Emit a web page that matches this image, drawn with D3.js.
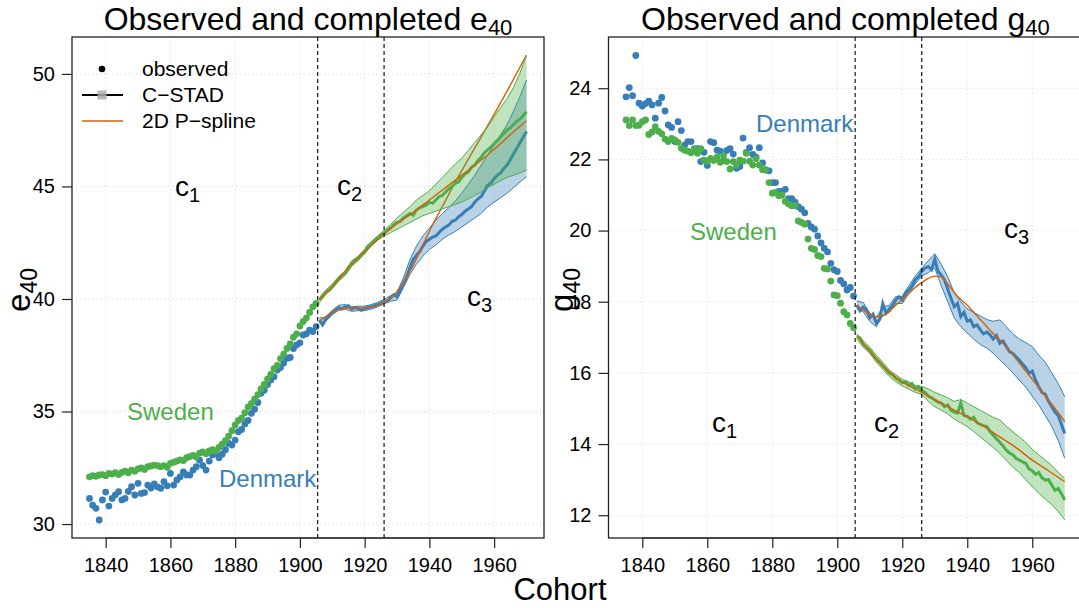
<!DOCTYPE html>
<html>
<head>
<meta charset="utf-8">
<script src="https://cdn.jsdelivr.net/npm/d3@7"></script>
<style>
  body { margin: 0; background: #fff; }
  svg { display: block; font-family: "Liberation Sans", Arial, sans-serif; }
</style>
</head>
<body>
<svg id="chart" width="1079" height="608"></svg>
<script>
// ---------- cohorts ----------
const obsYears  = d3.range(1835, 1906);        // observed cohorts
const fitYears  = d3.range(1906, 1971);        // completed cohorts
const bandYears = d3.range(1906, 1971, 2);     // interval bounds
const splineYearsE = {
  swe: [1906, 1910, 1915, 1920, 1926, 1930, 1935, 1940, 1945, 1950, 1955, 1960, 1965, 1970],
  den: [1906, 1910, 1915, 1920, 1926, 1929, 1932, 1935, 1938, 1941, 1944, 1948, 1952, 1956, 1960, 1965, 1970]
};
const splineYearsG = {
  swe: [1906, 1910, 1915, 1920, 1925, 1930, 1935, 1940, 1945, 1950, 1955, 1960, 1965, 1970],
  den: [1906, 1909, 1912, 1915, 1918, 1921, 1924, 1927, 1930, 1932, 1934, 1937, 1940, 1944, 1948, 1951, 1955, 1958, 1961, 1964, 1967, 1970]
};
const cohortBreaks = [1905.5, 1926];
const xTickLabels = [1840, 1860, 1880, 1900, 1920, 1940, 1960];
const eTicks = [30, 35, 40, 45, 50];
const gTicks = [12, 14, 16, 18, 20, 22, 24];

// ---------- e40 ----------
const e40ObsSwe = [32.10,32.15,32.12,32.18,32.20,32.15,32.25,32.22,32.28,32.20,32.30,32.35,32.28,32.40,32.35,32.45,32.50,32.42,32.55,32.58,
  32.62,32.60,32.55,32.60,32.52,32.70,32.75,32.80,32.85,32.82,32.95,33.00,33.05,32.98,33.15,33.20,33.12,33.25,33.30,33.25,
  33.40,33.55,33.70,33.90,34.15,34.40,34.60,34.70,34.95,35.20,35.35,35.55,35.75,36.00,36.20,36.45,36.65,36.90,37.05,37.35,
  37.55,37.80,38.00,38.30,38.45,38.80,39.00,39.15,39.40,39.65,39.80];
const e40ObsDen = [31.14,30.84,30.70,30.18,31.07,31.42,30.80,31.14,31.30,31.44,31.07,31.14,31.45,31.66,31.29,31.81,31.36,31.40,31.73,31.60,
  31.78,31.65,31.59,31.88,31.70,32.25,31.73,31.96,32.10,32.32,32.18,32.18,32.40,32.55,32.84,32.60,32.40,32.80,33.07,33.14,
  32.95,33.10,33.30,33.58,33.51,33.73,34.10,34.20,34.45,34.60,34.92,35.10,35.40,35.81,35.95,36.20,36.40,36.55,36.84,36.95,
  37.15,37.36,37.40,37.80,37.96,38.05,38.40,38.45,38.62,38.55,38.77];
const e40FitSwe = [39.95,40.15,40.30,40.40,40.55,40.75,40.90,41.05,41.15,41.40,41.55,41.70,41.80,41.98,42.10,42.35,42.45,42.60,42.70,42.85,
  42.92,43.05,43.15,43.30,43.40,43.45,43.60,43.70,43.80,43.72,43.95,44.05,44.10,44.18,44.30,44.25,44.40,44.55,44.60,44.75,
  44.90,45.00,45.14,45.20,45.40,45.55,45.65,45.85,45.95,46.15,46.30,46.50,46.62,46.75,46.90,47.05,47.20,47.35,47.51,47.60,
  47.75,47.90,48.00,48.15,48.32];
const e40FitDen = [39.05,38.85,39.10,39.25,39.40,39.50,39.62,39.55,39.65,39.70,39.55,39.62,39.58,39.50,39.58,39.62,39.65,39.70,39.75,39.80,
  39.88,39.92,40.05,40.18,40.10,40.40,40.70,41.00,41.40,41.75,41.95,42.10,42.35,42.55,42.65,42.75,42.80,42.95,43.10,43.20,
  43.28,43.45,43.50,43.65,43.75,43.90,44.00,44.10,44.30,44.45,44.55,44.80,45.05,45.15,45.35,45.50,45.60,45.80,45.95,46.20,
  46.45,46.70,46.95,47.20,47.44];
const e40LoSwe = [39.85,40.20,40.45,40.80,41.05,41.45,41.70,42.00,42.35,42.60,42.80,42.95,43.10,43.25,43.40,43.55,43.70,43.80,43.90,44.00,
  44.10,44.20,44.30,44.45,44.60,44.75,44.95,45.10,45.25,45.40,45.50,45.60,45.73];
const e40HiSwe = [40.05,40.40,40.65,41.00,41.25,41.70,41.90,42.20,42.55,42.80,43.05,43.30,43.60,43.85,44.10,44.40,44.60,44.80,45.10,45.40,
  45.70,46.00,46.25,46.60,46.95,47.30,47.65,48.10,48.50,48.90,49.40,50.05,50.84];
const e40LoDen = [38.95,39.00,39.30,39.50,39.55,39.45,39.48,39.48,39.55,39.65,39.78,39.90,39.95,40.50,41.10,41.55,41.90,42.20,42.40,42.65,
  42.85,43.00,43.20,43.40,43.60,43.80,44.10,44.30,44.50,44.70,44.95,45.20,45.44];
const e40HiDen = [39.15,39.20,39.50,39.72,39.75,39.65,39.68,39.68,39.75,39.85,39.98,40.15,40.30,40.95,41.75,42.35,42.80,43.15,43.50,43.80,
  44.05,44.35,44.70,45.10,45.50,45.95,46.40,46.85,47.30,47.75,48.35,49.00,49.73];
const e40SplSwe = [39.95,40.55,41.40,42.10,42.90,43.35,43.85,44.40,44.95,45.50,46.05,46.65,47.30,47.92];
const e40SplDen = [39.00,39.40,39.60,39.60,39.85,40.15,40.75,41.50,42.40,43.30,44.10,45.20,46.20,47.20,48.20,49.50,50.84];

// ---------- g40 ----------
const g40ObsSwe = [23.11,22.95,23.11,22.95,22.96,23.06,23.11,22.70,22.77,22.92,22.79,22.72,22.57,22.50,22.59,22.55,22.48,22.31,22.26,22.23,
  22.19,22.28,22.17,22.30,21.98,21.94,22.03,21.97,22.06,21.92,22.10,21.94,21.73,21.94,21.84,21.98,21.95,22.17,21.95,21.84,
  22.02,21.84,21.71,21.71,21.35,21.05,21.07,20.98,21.00,20.82,20.75,20.70,20.70,20.27,20.23,20.18,19.76,19.50,19.47,19.30,
  19.27,18.94,18.92,18.58,18.19,18.17,17.96,17.72,17.63,17.39,17.27];
const g40ObsDen = [23.76,24.02,23.79,24.92,23.58,23.50,23.57,23.64,23.53,23.16,23.58,23.74,23.36,22.97,22.90,22.50,23.06,22.81,22.40,22.50,
  22.50,22.30,22.30,21.94,22.20,21.83,22.50,22.47,22.26,22.23,21.97,22.25,22.30,22.15,21.75,21.80,22.60,22.20,22.33,22.14,
  22.06,22.33,21.90,21.70,21.68,21.35,21.35,21.10,21.10,21.16,20.90,20.90,20.80,20.67,20.60,20.50,20.20,20.10,20.04,19.85,
  19.65,19.50,19.40,19.08,18.90,18.85,18.60,18.50,18.33,18.40,18.16];
const g40FitSwe = [17.02,16.98,16.80,16.72,16.64,16.50,16.40,16.30,16.20,16.10,15.99,15.95,15.85,15.80,15.72,15.75,15.65,15.70,15.55,15.61,
  15.50,15.45,15.35,15.30,15.24,15.18,15.15,15.05,15.10,14.95,14.90,14.87,15.15,14.80,14.78,14.70,14.75,14.60,14.55,14.52,
  14.49,14.35,14.25,14.15,14.05,13.95,13.83,13.75,13.70,13.60,13.55,13.50,13.46,13.30,13.25,13.15,13.20,13.05,12.99,13.00,
  12.85,12.70,12.75,12.60,12.43];
const g40FitDen = [17.91,17.75,17.85,17.77,17.55,17.65,17.40,17.50,17.95,17.68,17.80,17.90,18.05,18.14,18.05,18.25,18.33,18.45,18.62,18.70,
  18.85,18.95,18.99,18.90,19.20,18.85,18.75,18.61,18.35,18.10,17.86,17.95,17.58,17.70,17.45,17.49,17.30,17.35,17.21,17.10,
  17.15,17.07,16.95,17.05,16.83,16.90,16.74,16.60,16.55,16.45,16.36,16.25,16.15,15.99,16.05,15.80,15.61,15.45,15.40,15.20,
  15.05,14.90,14.80,14.55,14.30];
const g40LoSwe = [16.95,16.72,16.55,16.30,16.10,15.90,15.75,15.63,15.55,15.45,15.40,15.20,15.05,14.95,14.85,14.70,14.60,14.49,14.35,14.20,
  14.05,13.90,13.74,13.55,13.35,13.20,13.00,12.80,12.62,12.45,12.30,12.10,11.87];
const g40HiSwe = [17.10,16.90,16.72,16.50,16.30,16.08,15.95,15.82,15.75,15.65,15.62,15.55,15.45,15.38,15.30,15.20,15.25,15.15,15.05,14.95,
  14.85,14.75,14.68,14.50,14.35,14.20,14.05,13.85,13.70,13.55,13.40,13.20,13.04];
const g40LoDen = [17.80,17.72,17.45,17.30,17.60,17.70,17.95,17.95,18.22,18.50,18.72,18.82,18.95,18.45,18.00,17.55,17.30,17.12,16.95,16.80,
  16.70,16.55,16.36,16.20,16.00,15.80,15.60,15.35,15.10,14.80,14.50,14.10,13.60];
const g40HiDen = [18.02,17.98,17.68,17.55,17.85,17.90,18.15,18.15,18.45,18.72,18.95,19.15,19.35,19.05,18.70,18.25,18.00,17.80,17.70,17.60,
  17.50,17.45,17.49,17.30,17.10,16.95,16.85,16.74,16.50,16.30,16.00,15.70,15.33];
const g40SplSwe = [17.05,16.60,16.10,15.75,15.50,15.25,15.00,14.77,14.50,14.20,13.90,13.55,13.25,12.94];
const g40SplDen = [17.90,17.70,17.58,17.65,17.90,18.15,18.40,18.60,18.72,18.70,18.50,18.15,17.90,17.50,17.10,16.83,16.40,16.05,15.71,15.35,15.00,14.63];

// ---------- styling ----------
const GREEN = "#4DAF4A", BLUE = "#377EB8", ORANGE = "#D95F02";
const TOP = 37, BOTTOM = 538;
const svg = d3.select("#chart");

function zip(xs, ys) { return xs.map((x, i) => ({ x, y: ys[i] })); }

function subText(parent, x, y, base, sub, size, subSize, color, anchor, rotate, shift) {
  const t = parent.append("text")
    .attr("text-anchor", anchor || "start")
    .attr("fill", color || "#000")
    .style("font-size", size + "px");
  if (rotate) t.attr("transform", `translate(${x},${y}) rotate(-90)`);
  else t.attr("x", x).attr("y", y);
  t.append("tspan").text(base);
  t.append("tspan").attr("dy", size * (shift || 0.2)).style("font-size", subSize + "px").text(sub);
  return t;
}

function drawPanel(p) {
  const g = svg.append("g");
  const x = d3.scaleLinear().domain([1829.6, 1975.4]).range([p.left, p.right]);
  const y = d3.scaleLinear().domain(p.yDomain).range([BOTTOM, TOP]);

  // dotted grid
  g.selectAll(".gx").data(xTickLabels).join("line")
    .attr("x1", d => x(d)).attr("x2", d => x(d)).attr("y1", TOP).attr("y2", BOTTOM)
    .attr("stroke", "#d6d6d6").attr("stroke-dasharray", "1,3");
  g.selectAll(".gy").data(p.yTicks).join("line")
    .attr("x1", p.left).attr("x2", p.right).attr("y1", d => y(d)).attr("y2", d => y(d))
    .attr("stroke", "#d6d6d6").attr("stroke-dasharray", "1,3");

  const band = d3.area().x(d => x(d.x)).y0(d => y(d.lo)).y1(d => y(d.hi));
  const line = d3.line().x(d => x(d.x)).y(d => y(d.y));
  const smooth = d3.line().x(d => x(d.x)).y(d => y(d.y)).curve(d3.curveMonotoneX);

  // observed cohorts
  [[p.obsDen, BLUE], [p.obsSwe, GREEN]].forEach(([vals, col]) => {
    g.append("g").selectAll("circle").data(zip(obsYears, vals)).join("circle")
      .attr("cx", d => x(d.x)).attr("cy", d => y(d.y)).attr("r", 3.4).attr("fill", col);
  });

  // completed cohorts: interval, C-STAD line, P-spline
  p.series.forEach(s => {
    const bd = bandYears.map((yr, i) => ({ x: yr, lo: s.lo[i], hi: s.hi[i] }));
    g.append("path").datum(bd).attr("d", band).attr("fill", s.col).attr("fill-opacity", 0.35);
    g.append("path").datum(zip(bandYears, s.lo)).attr("d", line).attr("fill", "none").attr("stroke", s.col).attr("stroke-width", 1);
    g.append("path").datum(zip(bandYears, s.hi)).attr("d", line).attr("fill", "none").attr("stroke", s.col).attr("stroke-width", 1);
    g.append("path").datum(zip(fitYears, s.fit)).attr("d", line).attr("fill", "none").attr("stroke", s.col).attr("stroke-width", 3);
    g.append("path").datum(zip(s.splYears, s.spl)).attr("d", smooth).attr("fill", "none").attr("stroke", ORANGE).attr("stroke-width", 1.4);
  });

  // cohort group separators
  g.selectAll(".brk").data(cohortBreaks).join("line")
    .attr("x1", d => x(d)).attr("x2", d => x(d)).attr("y1", TOP).attr("y2", BOTTOM)
    .attr("stroke", "#000").attr("stroke-width", 1.1).attr("stroke-dasharray", "4,3");

  // frame
  g.append("rect").attr("x", p.left).attr("y", TOP).attr("width", p.right - p.left).attr("height", BOTTOM - TOP)
    .attr("fill", "none").attr("stroke", "#222").attr("stroke-width", 1.3);

  // axes
  const ax = g.append("g").attr("transform", `translate(0,${BOTTOM})`)
    .call(d3.axisBottom(x).tickValues(xTickLabels).tickFormat(d3.format("d")).tickSize(10).tickPadding(10));
  const ay = g.append("g").attr("transform", `translate(${p.left},0)`)
    .call(d3.axisLeft(y).tickValues(p.yTicks).tickFormat(d3.format("d")).tickSize(10).tickPadding(7));
  [ax, ay].forEach(a => {
    a.select(".domain").remove();
    a.selectAll("line").attr("stroke", "#222").attr("stroke-width", 1.2);
    a.selectAll("text").attr("fill", "#000").style("font-size", "20px").style("font-family", "Liberation Sans, Arial, sans-serif");
  });
  ax.append("line").attr("x1", x(1840)).attr("x2", x(1960)).attr("stroke", "#222").attr("stroke-width", 1.2);

  // title
  subText(g, (p.left + p.right) / 2, 30, "Observed and completed " + p.sym, "40", 32, 22, "#000", "middle", false, 0.17);
  // y-axis label
  subText(g, p.ylabX, 290, p.sym, "40", 33, 23, "#000", "middle", true, 0.2);

  // annotations
  p.notes.forEach(n => {
    if (n.sub) subText(g, n.x, n.y, n.t, n.sub, 28, 20, "#000", "start", false, 0.22);
    else g.append("text").attr("x", n.x).attr("y", n.y).attr("fill", n.col).style("font-size", "24px").text(n.t);
  });
  return { x, y };
}

drawPanel({
  left: 72, right: 544, yDomain: [29.38, 51.64], yTicks: eTicks, sym: "e", ylabX: 30,
  obsSwe: e40ObsSwe, obsDen: e40ObsDen,
  series: [
    { col: BLUE, fit: e40FitDen, lo: e40LoDen, hi: e40HiDen, spl: e40SplDen, splYears: splineYearsE.den },
    { col: GREEN, fit: e40FitSwe, lo: e40LoSwe, hi: e40HiSwe, spl: e40SplSwe, splYears: splineYearsE.swe }
  ],
  notes: [
    { t: "c", sub: "1", x: 175, y: 196 },
    { t: "c", sub: "2", x: 337, y: 195 },
    { t: "c", sub: "3", x: 467, y: 306 },
    { t: "Sweden", x: 127, y: 420, col: GREEN },
    { t: "Denmark", x: 219, y: 487, col: BLUE }
  ]
});

drawPanel({
  left: 608.5, right: 1082.3, yDomain: [11.36, 25.44], yTicks: gTicks, sym: "g", ylabX: 573,
  obsSwe: g40ObsSwe, obsDen: g40ObsDen,
  series: [
    { col: BLUE, fit: g40FitDen, lo: g40LoDen, hi: g40HiDen, spl: g40SplDen, splYears: splineYearsG.den },
    { col: GREEN, fit: g40FitSwe, lo: g40LoSwe, hi: g40HiSwe, spl: g40SplSwe, splYears: splineYearsG.swe }
  ],
  notes: [
    { t: "c", sub: "1", x: 712, y: 432 },
    { t: "c", sub: "2", x: 874, y: 432 },
    { t: "c", sub: "3", x: 1004, y: 238 },
    { t: "Denmark", x: 756, y: 132, col: BLUE },
    { t: "Sweden", x: 690, y: 240, col: GREEN }
  ]
});

// shared x label
svg.append("text").attr("x", 560).attr("y", 600).attr("text-anchor", "middle")
  .style("font-size", "31px").text("Cohort");

// legend
const lg = svg.append("g");
lg.append("circle").attr("cx", 102).attr("cy", 69).attr("r", 3.3).attr("fill", "#000");
lg.append("line").attr("x1", 82).attr("x2", 123).attr("y1", 95).attr("y2", 95).attr("stroke", "#000").attr("stroke-width", 2.2);
lg.append("rect").attr("x", 97.5).attr("y", 90.5).attr("width", 9).attr("height", 9).attr("fill", "#aaa").attr("opacity", 0.85);
lg.append("line").attr("x1", 82).attr("x2", 123).attr("y1", 121).attr("y2", 121).attr("stroke", ORANGE).attr("stroke-width", 1.4);
[["observed", 76], ["C\u2212STAD", 102], ["2D P\u2212spline", 128]].forEach(([t, yy]) => {
  lg.append("text").attr("x", 142).attr("y", yy).style("font-size", "21px").text(t);
});
</script>
</body>
</html>
